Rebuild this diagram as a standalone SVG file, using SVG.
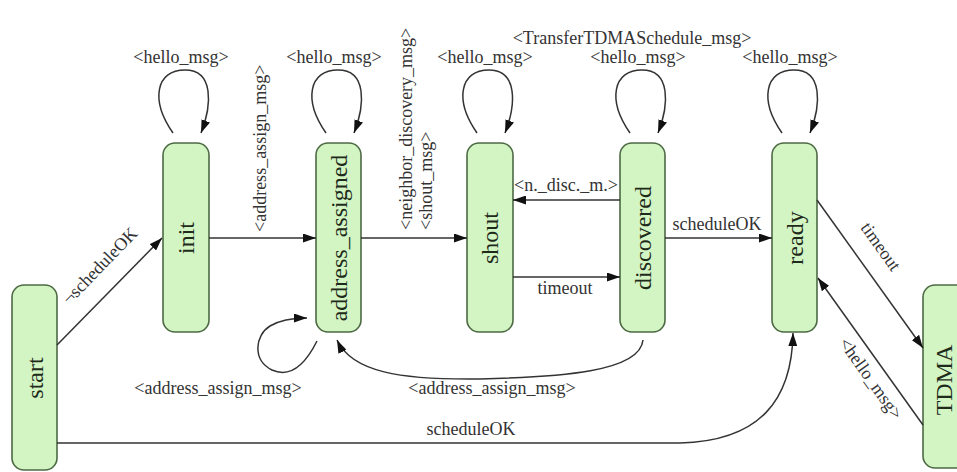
<svg xmlns="http://www.w3.org/2000/svg" width="957" height="472" viewBox="0 0 957 472" font-family="'Liberation Serif','Times New Roman','DejaVu Serif',serif">
<style>
.node rect{fill:#d3f5c3;stroke:#4d6a44;stroke-width:1.6}
.nl{font-family:'Liberation Serif','Times New Roman','DejaVu Serif',serif;font-size:24px;fill:#1e2a1a;text-anchor:middle}
.el{font-family:'Liberation Serif','Times New Roman','DejaVu Serif',serif;font-size:18px;fill:#333}
.c{fill:none;stroke:#333;stroke-width:1.5;marker-end:url(#ah)}
</style>
<defs>
<marker id="ah" viewBox="0 0 13 9" refX="13" refY="4.5" markerWidth="13" markerHeight="9" markerUnits="userSpaceOnUse" orient="auto">
<path d="M0,0 L13,4.5 L0,9 z" fill="#111"/>
</marker>
</defs>
<rect width="957" height="472" fill="#fff"/>

<g id="start" class="node"><rect x="12" y="285" width="45" height="185" rx="12"/><text class="nl" transform="translate(34.5,378) rotate(-90)" dy="8">start</text></g>
<g id="init" class="node"><rect x="163" y="143" width="46" height="189" rx="12"/><text class="nl" transform="translate(186,238) rotate(-90)" dy="8">init</text></g>
<g id="address_assigned" class="node"><rect x="316" y="143" width="45" height="189" rx="12"/><text class="nl" transform="translate(338.5,238) rotate(-90)" dy="8">address_assigned</text></g>
<g id="shout" class="node"><rect x="467" y="143" width="46" height="189" rx="12"/><text class="nl" transform="translate(490,238) rotate(-90)" dy="8">shout</text></g>
<g id="discovered" class="node"><rect x="620" y="143" width="45" height="189" rx="12"/><text class="nl" transform="translate(642.5,238) rotate(-90)" dy="8">discovered</text></g>
<g id="ready" class="node"><rect x="772" y="143" width="45" height="189" rx="12"/><text class="nl" transform="translate(794.5,238) rotate(-90)" dy="8">ready</text></g>
<g id="TDMA" class="node"><rect x="923" y="285" width="46" height="183" rx="12"/><text class="nl" transform="translate(944,380) rotate(-90)" dy="8">TDMA</text></g>

<g id="connectors">
<path class="c" d="M173,133 C150,100 156,70 185,70 C214,70 212,105 201,133"/>
<path class="c" d="M326,133 C303,100 309,70 338,70 C367,70 365,105 354,133"/>
<path class="c" d="M477,133 C454,100 460,70 489,70 C518,70 516,105 505,133"/>
<path class="c" d="M630,133 C607,100 613,70 642,70 C671,70 669,105 658,133"/>
<path class="c" d="M782,133 C759,100 765,70 794,70 C823,70 821,105 810,133"/>
<path class="c" d="M57,345 L162,238"/>
<path class="c" d="M209,238 L316,238"/>
<path class="c" d="M361,238 L467,238"/>
<path class="c" d="M620,200 L513,200"/>
<path class="c" d="M513,277 L620,277"/>
<path class="c" d="M665,238 L772,238"/>
<path class="c" d="M317,341 C305,365 290,378 272,370 C252,360 255,335 270,326 C280,320 293,318 307,318"/>
<path class="c" d="M643,340 C640,372 560,377 480,379 C400,380 352,372 337,340"/>
<path class="c" d="M57,443 L680,443 C760,441 792,400 793,333"/>
<path class="c" d="M817,200 L923,348"/>
<path class="c" d="M923,425 L818,278"/>
</g>

<g id="labels">
<text class="el" x="181" y="63" text-anchor="middle">&lt;hello_msg&gt;</text>
<text class="el" x="334" y="63" text-anchor="middle">&lt;hello_msg&gt;</text>
<text class="el" x="485" y="63" text-anchor="middle">&lt;hello_msg&gt;</text>
<text class="el" x="638" y="63" text-anchor="middle">&lt;hello_msg&gt;</text>
<text class="el" x="790" y="63" text-anchor="middle">&lt;hello_msg&gt;</text>
<text class="el" x="632" y="44" text-anchor="middle">&lt;TransferTDMASchedule_msg&gt;</text>
<text class="el" transform="translate(266,232) rotate(-90)">&lt;address_assign_msg&gt;</text>
<text class="el" transform="translate(412,230) rotate(-90)">&lt;neighbor_discovery_msg&gt;</text>
<text class="el" transform="translate(432,230) rotate(-90)">&lt;shout_msg&gt;</text>
<text class="el" x="566" y="191" text-anchor="middle">&lt;n._disc._m.&gt;</text>
<text class="el" x="565" y="294" text-anchor="middle">timeout</text>
<text class="el" x="717" y="230" text-anchor="middle">scheduleOK</text>
<text class="el" transform="translate(104,270) rotate(-45.8)" text-anchor="middle">¬scheduleOK</text>
<text class="el" x="218" y="394" text-anchor="middle">&lt;address_assign_msg&gt;</text>
<text class="el" x="492" y="394" text-anchor="middle">&lt;address_assign_msg&gt;</text>
<text class="el" x="471" y="435" text-anchor="middle">scheduleOK</text>
<text class="el" transform="translate(876,250) rotate(54.4)" text-anchor="middle">timeout</text>
<text class="el" transform="translate(866,382) rotate(54.4)" text-anchor="middle">&lt;hello_msg&gt;</text>
</g>
</svg>
